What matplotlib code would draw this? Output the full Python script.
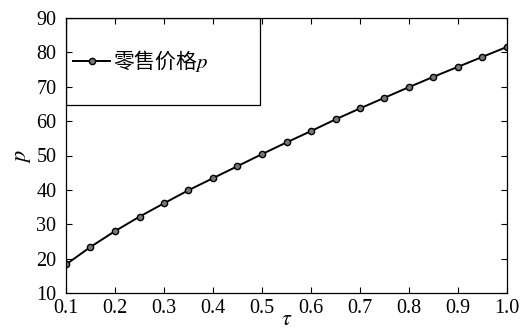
import matplotlib
matplotlib.use('Agg')
import matplotlib.pyplot as plt
from matplotlib.patches import Rectangle

plt.rcParams['font.family'] = ['Liberation Serif', 'Noto Sans CJK SC']
plt.rcParams['mathtext.fontset'] = 'stix'

# tau values and retail price p
tau = [0.1, 0.15, 0.2, 0.25, 0.3, 0.35, 0.4, 0.45, 0.5, 0.55,
       0.6, 0.65, 0.7, 0.75, 0.8, 0.85, 0.9, 0.95, 1.0]
price = [18.3, 23.4, 28.0, 32.2, 36.1, 39.9, 43.4, 46.9, 50.4, 53.8,
         57.1, 60.5, 63.7, 66.8, 69.9, 72.9, 75.8, 78.7, 81.6]
xticks = [0.1, 0.2, 0.3, 0.4, 0.5, 0.6, 0.7, 0.8, 0.9, 1.0]
yticks = [10, 20, 30, 40, 50, 60, 70, 80, 90]

fig = plt.figure(figsize=(5.21, 3.29), dpi=100)
ax = fig.add_axes([66 / 521, 1 - 293 / 329, 441 / 521, 275 / 329])

ax.plot(tau, price, color='black', lw=1.4, marker='o', ms=4.5,
        mfc='#777777', mec='black', mew=1.0, label='零售价格$p$')

ax.set_xlim(0.1, 1.0)
ax.set_ylim(10, 90)
ax.set_xticks(xticks)
ax.set_yticks(yticks)
ax.set_xticklabels(['%.1f' % v for v in xticks])
ax.tick_params(direction='in', top=True, right=True, labelsize=14.5,
               length=4, width=0.8, colors='black')
ax.tick_params(axis='y', pad=7)
ax.tick_params(axis='x', pad=4)
for s in ax.spines.values():
    s.set_linewidth(0.9)

ax.set_xlabel(r'$\tau$', fontsize=16, labelpad=-5)
ax.set_ylabel(r'$p$', fontsize=16, labelpad=2)

# MATLAB-like legend box
ax.add_patch(Rectangle((0, 0.684), 0.44, 0.316, transform=ax.transAxes,
                       fill=False, lw=0.9, ec='black', zorder=5))
leg = ax.legend(loc='center left', bbox_to_anchor=(0.0, 0.684, 0.44, 0.316),
                frameon=False, handlelength=1.75, handletextpad=0.15,
                borderaxespad=0.0, borderpad=0.35,
                prop={'family': ['Noto Sans CJK SC'], 'size': 15})

fig.savefig('out.png', dpi=100)
